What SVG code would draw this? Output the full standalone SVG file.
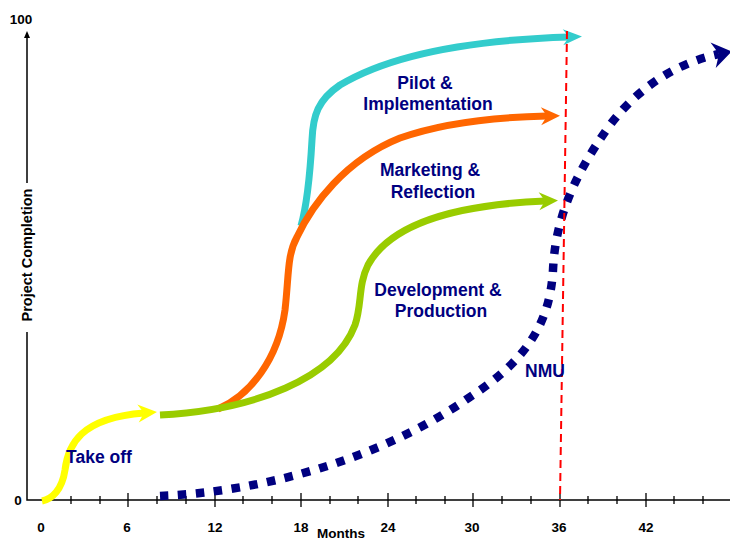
<svg xmlns="http://www.w3.org/2000/svg" width="730" height="540" viewBox="0 0 730 540">
<style>
.ax{stroke:#000;stroke-width:1.5;fill:none}
.tk{stroke:#000;stroke-width:1.3}
.num{font-family:"Liberation Sans",Arial,sans-serif;font-weight:bold;font-size:13.5px;fill:#000;text-anchor:middle}
.lab{font-family:"Liberation Sans",Arial,sans-serif;font-weight:bold;font-size:17.5px;fill:#000080;text-anchor:middle}
.cv{fill:none;stroke-width:7;stroke-linecap:butt}
</style>
<defs>
<marker id="hCyan" markerUnits="userSpaceOnUse" orient="auto" refX="0" refY="0" overflow="visible"><path d="M13,0 L-6,-8 L0,0 L-6,8 Z" fill="#33CCCC"/></marker>
<marker id="hOrange" markerUnits="userSpaceOnUse" orient="auto" refX="0" refY="0" overflow="visible"><path d="M13,0 L-6,-9 L0,0 L-6,9 Z" fill="#FF6600"/></marker>
<marker id="hGreen" markerUnits="userSpaceOnUse" orient="auto" refX="0" refY="0" overflow="visible"><path d="M13,0 L-6,-9 L0,0 L-6,9 Z" fill="#99CC00"/></marker>
<marker id="hYellow" markerUnits="userSpaceOnUse" orient="auto" refX="0" refY="0" overflow="visible"><path d="M13,0 L-6,-9 L0,0 L-6,9 Z" fill="#FFFF00"/></marker>
<marker id="hNavy" markerUnits="userSpaceOnUse" orient="auto" refX="0" refY="0" overflow="visible"><path d="M13,0 L-6,-13 L0,0 L-6,13 Z" fill="#000080" stroke="none"/></marker>
</defs>
<rect width="730" height="540" fill="#fff"/>

<g id="axes">
<path class="ax" d="M27,36 V183 M27,332 V500 H730"/>
<path d="M27,31 L24,38 L30,38 Z" fill="#000"/>
<path class="tk" d="M71,496V504 M100,496V504 M128,493V507 M157,496V504 M186,496V504 M215,493V507 M243,496V504 M272,496V504 M301,493V507 M330,496V504 M358,496V504 M388,493V507 M416,496V504 M445,496V504 M473,493V507 M502,496V504 M531,496V504 M560,493V507 M588,496V504 M617,496V504 M646,493V507 M674,496V504 M703,496V504"/>
<text class="num" x="41" y="532">0</text>
<text class="num" x="127" y="532">6</text>
<text class="num" x="215" y="532">12</text>
<text class="num" x="301" y="532">18</text>
<text class="num" x="388" y="532">24</text>
<text class="num" x="472" y="532">30</text>
<text class="num" x="559" y="532">36</text>
<text class="num" x="646" y="532">42</text>
<text class="num" x="341" y="538">Months</text>
<text class="num" x="18" y="505">0</text>
<text class="num" x="21" y="24">100</text>
<text class="num" style="font-size:14.5px" transform="translate(32,255) rotate(-90)" x="0" y="0">Project Completion</text>
</g>

<g id="connectors">
<path id="pilot" class="cv" stroke="#33CCCC" marker-end="url(#hCyan)" d="M301,226 C307,205 310,175 312,140 C313,115 318,100 340,85 C390,55 470,40 569,37"/>
<path id="marketing" class="cv" stroke="#FF6600" marker-end="url(#hOrange)" d="M218,409 C250,395 278,360 285,310 C289,275 287,255 297,237 C312,205 345,160 400,138 C445,122 500,117 547,116"/>
<path id="development" class="cv" stroke="#99CC00" marker-end="url(#hGreen)" d="M160,415 C255,410 335,378 355,325 C362,305 358,285 368,265 C390,225 450,205 545,201"/>
<path id="takeoff" class="cv" stroke="#FFFF00" marker-end="url(#hYellow)" d="M42,501 C52,499 62,490 65,470 C68,445 80,418 144,413"/>
<path id="nmu" fill="none" stroke="#000080" stroke-width="8.5" stroke-dasharray="8.5 9.5" marker-end="url(#hNavy)" d="M160,496 C260,492 380,460 470,397 C530,358 550,320 553,270 C555,225 570,180 610,125 C640,85 680,62 719,54"/>
<path id="deadline" fill="none" stroke="#FF0000" stroke-width="2" stroke-dasharray="8 5" d="M567,31 L560,500"/>
</g>

<g id="label-pilot"><text class="lab" x="425" y="89">Pilot &amp;</text><text class="lab" x="428" y="110">Implementation</text></g>
<g id="label-marketing"><text class="lab" x="430" y="176">Marketing &amp;</text><text class="lab" x="433" y="198">Reflection</text></g>
<g id="label-development"><text class="lab" x="438" y="296">Development &amp;</text><text class="lab" x="441" y="317">Production</text></g>
<g id="label-nmu"><text class="lab" x="545" y="377">NMU</text></g>
<g id="label-takeoff"><text class="lab" x="99" y="463">Take off</text></g>
</svg>
